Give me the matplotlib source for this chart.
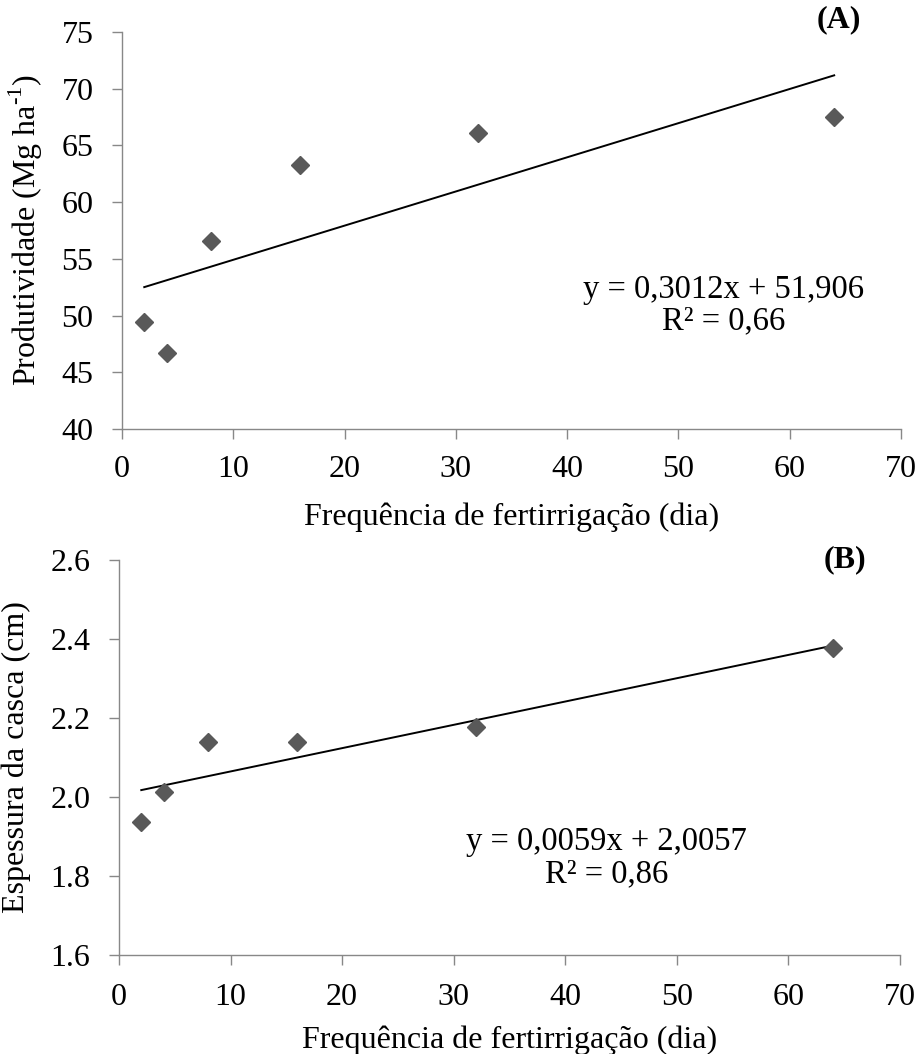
"""
Productivity and peel thickness vs fertigation frequency, with linear trend lines.
"""

import numpy as np
import matplotlib
matplotlib.use("Agg")
import matplotlib.pyplot as plt

plt.rcParams["font.family"] = ["Liberation Serif", "DejaVu Serif"]
plt.rcParams["mathtext.fontset"] = "custom"
plt.rcParams["mathtext.rm"] = "Liberation Serif"

# Fertigation frequency (days)
freq = [2, 4, 8, 16, 32, 64]

# Panel A: productivity (Mg ha-1)
yield_vals = [49.4, 46.7, 56.6, 63.3, 66.1, 67.5]
slope_a, icpt_a, r2_a = 0.3012, 51.906, 0.66

# Panel B: peel thickness (cm)
peel_vals = [1.938, 2.013, 2.138, 2.138, 2.176, 2.376]
slope_b, icpt_b, r2_b = 0.0059, 2.0057, 0.86

MARKER_COLOR = "#595959"
SPINE_COLOR = "#888888"
FS = 23


def style_axes(ax, xpad, ypad):
    for side in ("top", "right"):
        ax.spines[side].set_visible(False)
    for side in ("left", "bottom"):
        ax.spines[side].set_color(SPINE_COLOR)
        ax.spines[side].set_linewidth(1.0)
    ax.tick_params(axis="both", direction="out", length=7, width=1.0,
                   color=SPINE_COLOR, labelsize=FS)
    ax.tick_params(axis="x", pad=xpad)
    ax.tick_params(axis="y", pad=ypad)


def draw_panel(ax, yvals, slope, icpt, r2, ylim, yticks, ylabel, fmt,
               eq_pos, tag, tag_pos, pads):
    xpad, ypad, xlpad, ylpad = pads

    ax.plot(freq, yvals, linestyle="none", marker="D", markersize=9.5,
            color=MARKER_COLOR, zorder=3)

    # Excel-style trend line over the data range
    xs = np.array([min(freq), max(freq)])
    ax.plot(xs, slope * xs + icpt, color="black", linewidth=1.4, zorder=2)

    ax.set_xlim(0, 70)
    ax.set_xticks(range(0, 71, 10))
    ax.set_ylim(*ylim)
    ax.set_yticks(yticks)
    ax.set_yticklabels([fmt.format(v) for v in yticks])

    ax.set_xlabel("Frequência de fertirrigação (dia)", fontsize=FS,
                  labelpad=xlpad)
    ax.set_ylabel(ylabel, fontsize=FS, labelpad=ylpad)

    eq = "y = {}x + {}\nR² = {}".format(
        str(slope).replace(".", ","), str(icpt).replace(".", ","),
        str(r2).replace(".", ","))
    ax.text(eq_pos[0], eq_pos[1], eq, fontsize=FS + 0.5, ha="center",
            va="center", multialignment="center", linespacing=1.05)

    ax.text(tag_pos[0], tag_pos[1], tag, transform=ax.transAxes,
            fontsize=FS, fontweight="bold", ha="center", va="center")
    style_axes(ax, xpad, ypad)


def main():
    fig = plt.figure(figsize=(9.2, 10.54), dpi=100)

    ax_a = fig.add_axes([0.1326, 0.5930, 0.8467, 0.3766])
    draw_panel(ax_a, yield_vals, slope_a, icpt_a, r2_a,
               (40, 75), list(range(40, 76, 5)),
               "Produtividade (Mg ha$^{\\text{-1}}$)", "{:d}",
               (54.1, 50.9), "(A)", (0.920, 1.030),
               pads=(12, 13.5, 13, 12))

    ax_b = fig.add_axes([0.1293, 0.0939, 0.8489, 0.3748])
    draw_panel(ax_b, peel_vals, slope_b, icpt_b, r2_b,
               (1.6, 2.6), [1.6, 1.8, 2.0, 2.2, 2.4, 2.6],
               "Espessura da casca (cm)", "{:.1f}",
               (43.7, 1.846), "(B)", (0.930, 1.0),
               pads=(13, 13.5, 10, 14))

    fig.savefig("out.png", dpi=100, facecolor="white")
    plt.close(fig)


if __name__ == "__main__":
    main()
